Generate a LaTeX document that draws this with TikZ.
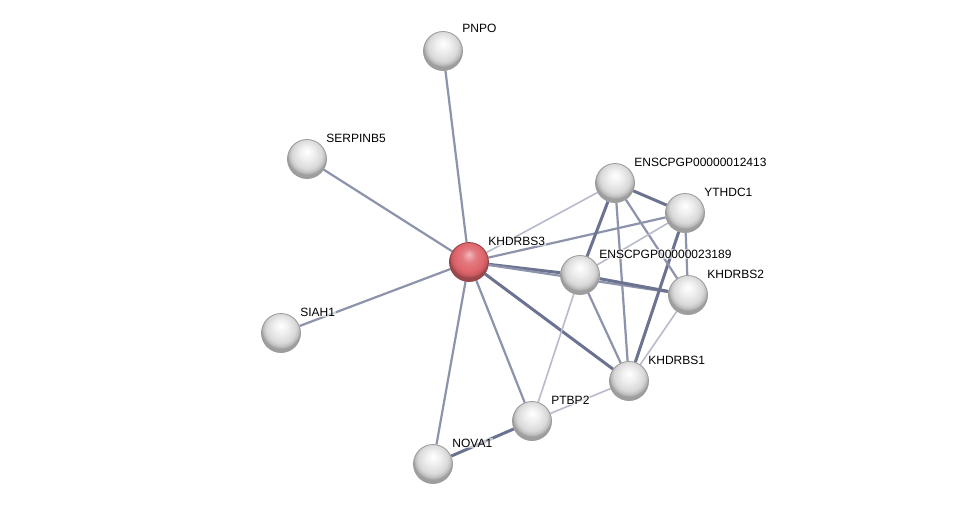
\documentclass[tikz,border=0pt]{standalone}
\usepackage{fontspec}
\newfontfamily\lblfont{Liberation Sans}
\usepackage{tikz}
\usetikzlibrary{backgrounds}
\definecolor{ppiStrong}{HTML}{6B7390}
\definecolor{ppiMid}{HTML}{8D93AB}
\definecolor{ppiWeak}{HTML}{B7BBCB}
\definecolor{ppiRim}{HTML}{9A9A9A}
\definecolor{ppiQuery}{HTML}{DE646A}
\pgfdeclareradialshading{protshade}{\pgfpoint{0bp}{10bp}}{%
  color(0bp)=(white); color(9bp)=(white!94!black); color(19bp)=(white!85!black);
  color(23bp)=(white!74!black); color(25bp)=(white!62!black); color(50bp)=(white!62!black)}
\pgfdeclareradialshading{queryshade}{\pgfpoint{0bp}{10bp}}{%
  color(0bp)=(white!55!ppiQuery); color(9bp)=(white!15!ppiQuery); color(19bp)=(ppiQuery);
  color(23bp)=(ppiQuery!88!black); color(25bp)=(ppiQuery!70!black); color(50bp)=(ppiQuery!70!black)}
\tikzset{
  prot/.style   = {circle, minimum size=19.5pt, inner sep=0pt, draw=ppiRim, line width=0.4pt,
                   shading=protshade},
  query/.style  = {prot, draw=ppiQuery!65!black, shading=queryshade},
  lbl/.style    = {anchor=base west, font=\lblfont\fontsize{6}{7}\selectfont, inner sep=0.5pt,
                   fill=white, fill opacity=0.6, text opacity=1},
  strong/.style = {draw=ppiStrong, line width=1.5pt},
  mid/.style    = {draw=ppiMid, line width=1.1pt},
  weak/.style   = {draw=ppiWeak, line width=0.8pt},
}

\begin{document}
\begin{tikzpicture}[x=0.5pt, y=-0.5pt]
\path[use as bounding box] (0,0) rectangle (975,510);

% --- proteins
\node[query] (khdrbs3) at (469,262) {};
\node[prot] (pnpo)     at (443,51)  {};
\node[prot] (serpinb5) at (307,159) {};
\node[prot] (siah1)    at (281,333) {};
\node[prot] (e12413)   at (615,183) {};
\node[prot] (ythdc1)   at (685,213) {};
\node[prot] (e23189)   at (580,275) {};
\node[prot] (khdrbs2)  at (688,295) {};
\node[prot] (khdrbs1)  at (629,381) {};
\node[prot] (ptbp2)    at (532,421) {};
\node[prot] (nova1)    at (433,464) {};

% --- labels
\node[lbl] (khdrbs3-l)  at ([shift={(18,-17)}]khdrbs3.center)  {KHDRBS3};
\node[lbl] (pnpo-l)     at ([shift={(18,-19)}]pnpo.center)     {PNPO};
\node[lbl] (serpinb5-l) at ([shift={(18,-17)}]serpinb5.center) {SERPINB5};
\node[lbl] (siah1-l)    at ([shift={(18,-17)}]siah1.center)    {SIAH1};
\node[lbl] (e12413-l)   at ([shift={(18,-17)}]e12413.center)   {ENSCPGP00000012413};
\node[lbl] (ythdc1-l)   at ([shift={(18,-17)}]ythdc1.center)   {YTHDC1};
\node[lbl] (e23189-l)   at ([shift={(18,-17)}]e23189.center)   {ENSCPGP00000023189};
\node[lbl] (khdrbs2-l)  at ([shift={(18,-17)}]khdrbs2.center)  {KHDRBS2};
\node[lbl] (khdrbs1-l)  at ([shift={(18,-17)}]khdrbs1.center)  {KHDRBS1};
\node[lbl] (ptbp2-l)    at ([shift={(18,-17)}]ptbp2.center)    {PTBP2};
\node[lbl] (nova1-l)    at ([shift={(18,-17)}]nova1.center)    {NOVA1};

% --- interactions
\begin{scope}[on background layer]
  \fill[white] (0,0) rectangle (975,510);
  \draw[mid]    (khdrbs3) -- (pnpo);
  \draw[mid]    (khdrbs3) -- (serpinb5);
  \draw[mid]    (khdrbs3) -- (siah1);
  \draw[mid]    (khdrbs3) -- (nova1);
  \draw[mid]    (khdrbs3) -- (ptbp2);
  \draw[strong] (khdrbs3) -- (khdrbs1);
  \draw[strong] (khdrbs3) -- (e23189);
  \draw[mid]    (khdrbs3) -- (khdrbs2);
  \draw[weak]   (khdrbs3) -- (e12413);
  \draw[mid]    (khdrbs3) -- (ythdc1);
  \draw[strong] (nova1) -- (ptbp2);
  \draw[weak]   (ptbp2) -- (khdrbs1);
  \draw[weak]   (ptbp2) -- (e23189);
  \draw[mid]    (e23189) -- (khdrbs1);
  \draw[mid]    (e12413) -- (khdrbs1);
  \draw[strong] (ythdc1) -- (khdrbs1);
  \draw[weak]   (khdrbs2) -- (khdrbs1);
  \draw[strong] (e12413) -- (ythdc1);
  \draw[strong] (e12413) -- (e23189);
  \draw[mid]    (e12413) -- (khdrbs2);
  \draw[weak]   (ythdc1) -- (e23189);
  \draw[mid]    (ythdc1) -- (khdrbs2);
  \draw[strong] (e23189) -- (khdrbs2);
\end{scope}

\end{tikzpicture}
\end{document}
